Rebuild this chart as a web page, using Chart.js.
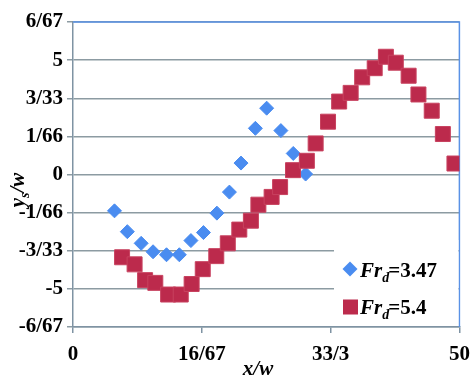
<!DOCTYPE html>
<html>
<head>
<meta charset="utf-8">
<script src="https://cdn.jsdelivr.net/npm/chart.js@4/dist/chart.umd.min.js"></script>
<style>
html,body{margin:0;padding:0;background:#fff;}
#wrap{width:471px;height:378px;position:relative;}
</style>
</head>
<body>
<div id="wrap"><canvas id="c" width="471" height="378"></canvas></div>
<script>
// ---- data ----
const xTickValues = [0, 16.67, 33.33, 50];
const xTickLabels = ['0', '16/67', '33/3', '50'];
const yTickValues = [-6.67, -5, -3.33, -1.66, 0, 1.66, 3.33, 5, 6.67];
const yTickLabels = ['-6/67', '-5', '-3/33', '-1/66', '0', '1/66', '3/33', '5', '6/67'];

const fr347X = [5.37, 7.03, 8.82, 10.36, 12.10, 13.76, 15.26, 16.88, 18.62, 20.24, 21.74, 23.60, 25.06, 26.90, 28.50, 30.10];
const fr347Y = [-1.59, -2.50, -3.01, -3.38, -3.51, -3.51, -2.89, -2.54, -1.69, -0.77, 0.50, 2.02, 2.90, 1.92, 0.92, 0.02];

const fr54X = [6.35, 7.97, 9.33, 10.65, 12.31, 13.94, 15.35, 16.79, 18.54, 20.03, 21.52, 23.02, 23.99, 25.70, 26.80, 28.47, 30.26, 31.40, 33.00, 34.44, 35.93, 37.42, 39.04, 40.49, 41.77, 43.43, 44.70, 46.42, 47.86, 49.36];
const fr54Y = [-3.62, -3.93, -4.62, -4.74, -5.25, -5.25, -4.79, -4.14, -3.57, -3.01, -2.41, -2.02, -1.32, -0.98, -0.55, 0.19, 0.60, 1.36, 2.31, 3.19, 3.57, 4.25, 4.65, 5.15, 4.89, 4.32, 3.50, 2.79, 1.77, 0.48];

const seriesNames = ['3.47', '5.4'];

// ---- styles ----
const BLUE = '#4A8CF0';
const RED = '#BC2A4C';
const RED_EDGE = '#C8425F';
const GRID = '#8C9BA2';
const AXIS = '#7F93A3';
const FRAME = '#5A92E6';
const SERIF = '"Liberation Serif", "Times New Roman", serif';

function pts(xs, ys) { return xs.map((x, i) => ({x: x, y: ys[i]})); }

function drawRich(ctx, parts, x, y, align) {
  let total = 0;
  parts.forEach(p => { ctx.font = p.font; p.w = ctx.measureText(p.text).width; total += p.w + (p.kern || 0); });
  let cx = align === 'center' ? x - total / 2 : x;
  ctx.textAlign = 'left';
  ctx.textBaseline = 'alphabetic';
  parts.forEach(p => {
    ctx.font = p.font;
    ctx.fillText(p.text, cx, y + (p.dy || 0));
    cx += p.w + (p.kern || 0);
  });
}

const decor = {
  id: 'decor',
  beforeDatasetsDraw(chart) {
    const ctx = chart.ctx, a = chart.chartArea;
    ctx.save();
    ctx.strokeStyle = FRAME;
    ctx.lineWidth = 1.5;
    ctx.beginPath();
    ctx.moveTo(a.left, a.top);
    ctx.lineTo(a.right, a.top);
    ctx.lineTo(a.right, a.bottom);
    ctx.stroke();
    ctx.restore();
  },
  afterDatasetsDraw(chart) {
    const ctx = chart.ctx, a = chart.chartArea;
    ctx.save();
    // legend box
    ctx.fillStyle = '#fff';
    ctx.fillRect(334, 240, a.right - 334 - 1, a.bottom - 240 - 1);
    // legend markers
    ctx.fillStyle = BLUE;
    ctx.beginPath();
    ctx.moveTo(342.5, 269); ctx.lineTo(350, 261.5); ctx.lineTo(357.5, 269); ctx.lineTo(350, 276.5);
    ctx.closePath(); ctx.fill();
    ctx.fillStyle = RED;
    ctx.fillRect(343, 299.5, 15, 15);
    ctx.fillStyle = '#000';
    const big = 'italic bold 21px ' + SERIF;
    const sub = 'italic bold 14px ' + SERIF;
    const up = 'bold 21px ' + SERIF;
    drawRich(ctx, [{text: 'Fr', font: big}, {text: 'd', font: sub, dy: 5, kern: -1}, {text: '=' + seriesNames[0], font: up}], 360, 277, 'left');
    drawRich(ctx, [{text: 'Fr', font: big}, {text: 'd', font: sub, dy: 5, kern: -1}, {text: '=' + seriesNames[1], font: up}], 360, 314, 'left');
    // axis titles
    drawRich(ctx, [{text: 'x/w', font: 'italic bold 21px ' + SERIF}], 258, 375, 'center');
    ctx.translate(24, 190);
    ctx.rotate(-Math.PI / 2);
    drawRich(ctx, [{text: 'y', font: big}, {text: 's', font: sub, dy: 5}, {text: '/w', font: big}], 0, 0, 'center');
    ctx.restore();
  }
};

new Chart(document.getElementById('c'), {
  type: 'scatter',
  data: {
    datasets: [
      {
        label: 'Fr_d=' + seriesNames[0],
        data: pts(fr347X, fr347Y),
        pointStyle: 'rectRot',
        pointRadius: 7,
        pointBackgroundColor: BLUE,
        pointBorderColor: BLUE,
        pointBorderWidth: 1,
        order: 1
      },
      {
        label: 'Fr_d=' + seriesNames[1],
        data: pts(fr54X, fr54Y),
        pointStyle: 'rect',
        pointRadius: 10.6,
        pointBackgroundColor: RED,
        pointBorderColor: RED_EDGE,
        pointBorderWidth: 1,
        order: 0
      }
    ]
  },
  options: {
    responsive: false,
    animation: false,
    events: [],
    layout: {padding: {left: 0, right: 7, top: 22, bottom: 0}},
    plugins: {legend: {display: false}, tooltip: {enabled: false}, title: {display: false}},
    scales: {
      x: {
        type: 'linear',
        min: 0, max: 50,
        afterBuildTicks(s) { s.ticks = xTickValues.map(v => ({value: v})); },
        afterFit(s) { s.height = 51; s.paddingLeft = 0; s.paddingRight = 0; },
        grid: {drawOnChartArea: false, drawTicks: true, tickLength: 6, color: AXIS, lineWidth: 1.5},
        border: {display: true, color: AXIS, width: 1.5},
        ticks: {
          autoSkip: false, maxRotation: 0, padding: 9, color: '#000',
          font: {family: SERIF, size: 21, weight: 'bold'},
          callback(v, i) { return xTickLabels[i]; }
        }
      },
      y: {
        type: 'linear',
        min: -6.67, max: 6.67,
        afterBuildTicks(s) { s.ticks = yTickValues.map(v => ({value: v})); },
        afterFit(s) { s.width = 73; s.paddingTop = 0; s.paddingBottom = 0; },
        grid: {drawOnChartArea: true, drawTicks: true, tickLength: 6, color: GRID, lineWidth: 1.5},
        border: {display: true, color: AXIS, width: 1.5},
        ticks: {
          autoSkip: false, padding: 4, color: '#000',
          font: {family: SERIF, size: 21, weight: 'bold'},
          callback(v, i) { return yTickLabels[i]; }
        }
      }
    }
  },
  plugins: [decor]
});
</script>
</body>
</html>
